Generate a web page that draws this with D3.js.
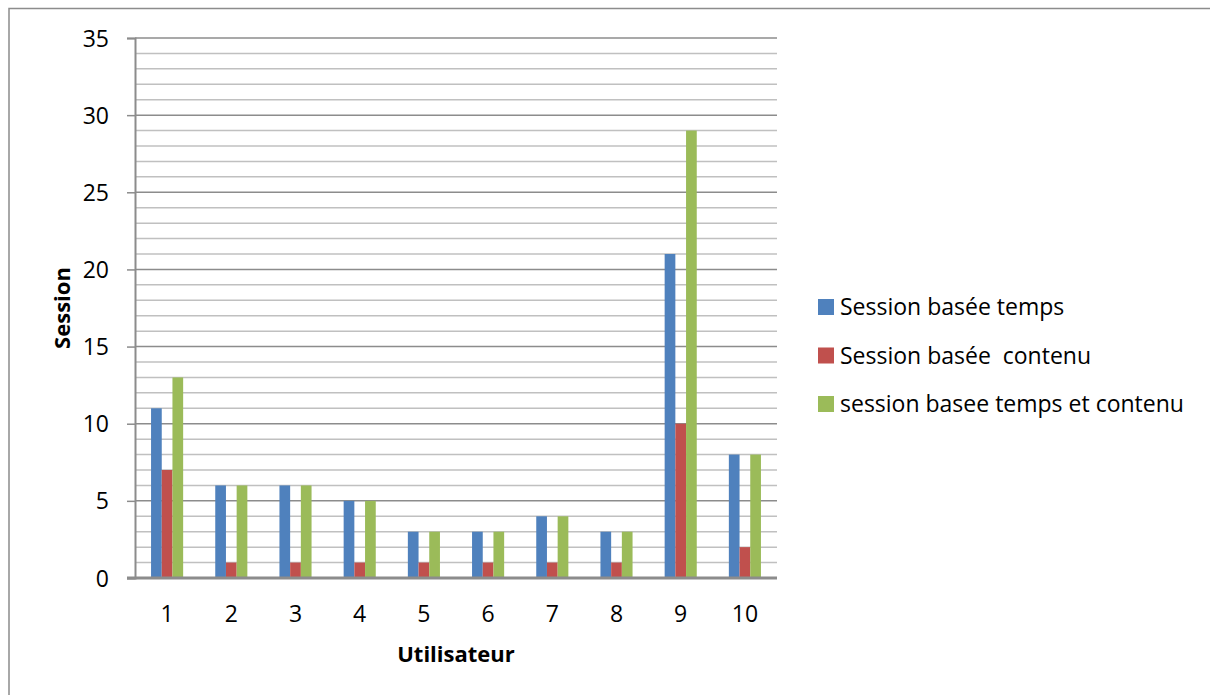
<!DOCTYPE html>
<html><head><meta charset="utf-8">
<script src="https://cdn.jsdelivr.net/npm/d3@7"></script>
<style>body{margin:0;background:#fff}svg{display:block}text{font-family:"Open Sans",sans-serif;fill:#000}</style>
</head><body><svg id="c" width="1210" height="695"></svg>
<script>
const categories = ["1","2","3","4","5","6","7","8","9","10"];
const seriesNames = ["Session basée temps","Session basée  contenu","session basee temps et contenu"];
const tempsValues = [11,6,6,5,3,3,4,3,21,8];
const contenuValues = [7,1,1,1,1,1,1,1,10,2];
const tempsContenuValues = [13,6,6,5,3,3,4,3,29,8];
const colors = ["#4F81BD","#C0504D","#9BBB59"];
const yTicks = [0,5,10,15,20,25,30,35];

const svg = d3.select("#c");
svg.append("rect").attr("x",9).attr("y",8.5).attr("width",1220).attr("height",720)
  .attr("fill","none").attr("stroke","#8c8c8c").attr("stroke-width",1.5);

const L=135, R=777, T=38, B=578;
const x = d3.scaleBand().domain(categories).range([L,R]);
const y = d3.scaleLinear().domain([0,35]).range([B,T]);
const x1 = d3.scaleBand().domain(d3.range(3)).range([0, x.bandwidth()/2]);

svg.append("g").selectAll("line").data(d3.range(1,36).filter(v=>v%5)).join("line")
  .attr("x1",L).attr("x2",R).attr("y1",d=>y(d)).attr("y2",d=>y(d))
  .attr("stroke","#c0c0c0").attr("stroke-width",1.5);
svg.append("g").selectAll("line").data(yTicks.slice(1)).join("line")
  .attr("x1",L).attr("x2",R).attr("y1",d=>y(d)).attr("y2",d=>y(d))
  .attr("stroke","#8c8c8c").attr("stroke-width",1.5);

const series=[tempsValues,contenuValues,tempsContenuValues];
series.forEach((vals,si)=>{
  svg.append("g").selectAll("rect").data(vals).join("rect")
    .attr("x",(d,i)=>x(categories[i])+x.bandwidth()/4+x1(si))
    .attr("width",x1.bandwidth())
    .attr("y",d=>y(d)).attr("height",d=>B-y(d))
    .attr("fill",colors[si]);
});

const ya = svg.append("g").attr("transform",`translate(${L},0)`)
  .call(d3.axisLeft(y).tickValues(yTicks).tickSize(8).tickPadding(18));
ya.select(".domain").attr("stroke","#8c8c8c").attr("stroke-width",2);
ya.selectAll(".tick line").attr("stroke","#8c8c8c").attr("stroke-width",1.5);
ya.selectAll("text").attr("font-size",23).attr("font-family","'Open Sans',sans-serif").attr("dy","0.35em");

svg.append("line").attr("x1",L-8).attr("x2",R).attr("y1",B).attr("y2",B)
  .attr("stroke","#8c8c8c").attr("stroke-width",3);
svg.append("g").selectAll("text").data(categories).join("text")
  .attr("x",d=>x(d)+x.bandwidth()/2).attr("y",622).attr("text-anchor","middle")
  .attr("font-size",23).text(d=>d);

svg.append("text").attr("x",456).attr("y",662).attr("text-anchor","middle")
  .attr("font-size",22).attr("font-weight","bold").text("Utilisateur");
svg.append("text").attr("transform","translate(70,308) rotate(-90)").attr("text-anchor","middle")
  .attr("font-size",22).attr("font-weight","bold").text("Session");

const lg = svg.append("g").selectAll("g").data(seriesNames).join("g")
  .attr("transform",(d,i)=>`translate(818,${307+i*48.5})`);
lg.append("rect").attr("x",0).attr("y",-8).attr("width",16).attr("height",16).attr("fill",(d,i)=>colors[i]);
lg.append("text").attr("x",22).attr("y",0).attr("dy","0.35em").attr("font-size",23)
  .style("white-space","pre").text(d=>d);
</script></body></html>
